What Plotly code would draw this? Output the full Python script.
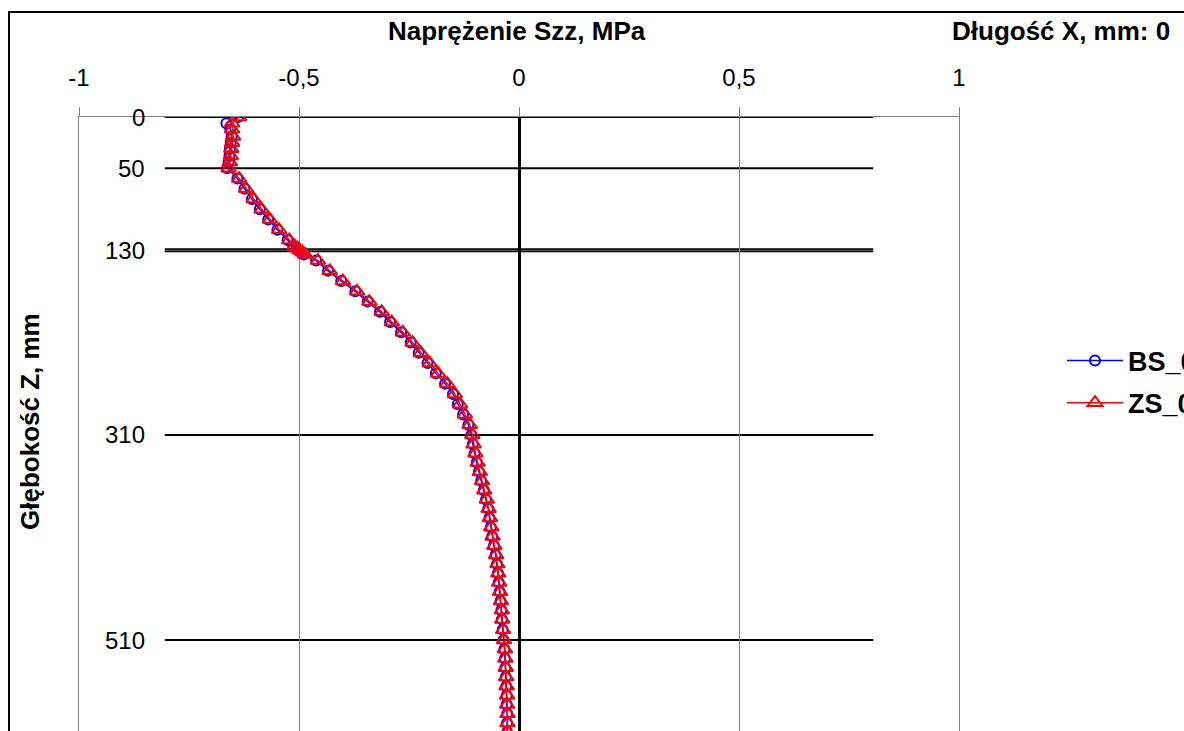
import plotly.graph_objects as go

# Depth below surface, mm
depth_mm = [0, 6, 12, 19, 25, 31, 38, 44, 50,
            60, 70, 80, 90, 100, 110, 120, 126, 128, 130, 132, 134,
            140, 150, 160, 170, 180, 190, 200, 210, 220, 230, 240, 250, 260,
            270, 280, 290, 300, 310,
            319, 328, 337, 346, 355, 364, 373, 382, 391, 400, 409, 418, 427,
            436, 445, 454, 463, 472, 481, 490, 500, 510,
            519, 528, 537, 546, 555, 564, 573, 582, 591, 600]

# Vertical stress Szz, MPa
bs_0 = [-0.638, -0.665, -0.656, -0.653, -0.655, -0.657, -0.658, -0.660, -0.663,
        -0.640, -0.624, -0.607, -0.589, -0.570, -0.549, -0.526, -0.513, -0.506, -0.501, -0.495, -0.489,
        -0.461, -0.434, -0.404, -0.372, -0.344, -0.316, -0.293, -0.268, -0.246, -0.228, -0.208, -0.189, -0.168,
        -0.150, -0.139, -0.127, -0.115, -0.108,
        -0.105, -0.101, -0.096, -0.091, -0.086, -0.080, -0.075, -0.070, -0.067, -0.064, -0.061, -0.057, -0.053,
        -0.050, -0.048, -0.046, -0.044, -0.042, -0.040, -0.039, -0.037, -0.035,
        -0.033, -0.032, -0.031, -0.030, -0.029, -0.028, -0.028, -0.027, -0.027, -0.027]

zs_0 = [-0.636, -0.652, -0.652, -0.650, -0.652, -0.654, -0.655, -0.657, -0.660,
        -0.636, -0.620, -0.603, -0.585, -0.566, -0.545, -0.522, -0.510, -0.503, -0.498, -0.492, -0.486,
        -0.457, -0.430, -0.400, -0.368, -0.340, -0.312, -0.289, -0.264, -0.242, -0.223, -0.203, -0.184, -0.163,
        -0.146, -0.134, -0.123, -0.112, -0.106,
        -0.103, -0.099, -0.094, -0.089, -0.084, -0.079, -0.073, -0.069, -0.066, -0.063, -0.060, -0.056, -0.052,
        -0.049, -0.047, -0.045, -0.043, -0.041, -0.039, -0.038, -0.036, -0.034,
        -0.032, -0.031, -0.030, -0.029, -0.028, -0.027, -0.027, -0.026, -0.026, -0.026]

# Layer boundaries (depth, mm) and their labels
layer_bounds = [0, 50, 130, 310, 510]
layer_labels = ["0", "50", "130", "310", "510"]

# Stress axis ticks
x_ticks = [-1, -0.5, 0, 0.5, 1]
x_tick_text = ["-1", "-0,5", "0", "0,5", "1"]

FONT = "Liberation Sans, Arial, sans-serif"
W, H = 1184, 731
L, R, T, B = 79, 225, 117, 0
pw, ph = W - L - R, H - T - B


def px_x(p):
    return (p - L) / pw


def px_y(p):
    return (H - B - p) / ph


fig = go.Figure()

fig.add_trace(go.Scatter(
    x=bs_0, y=depth_mm, name="<b>BS_0</b>", mode="lines+markers",
    line=dict(color="#0000ff", width=1.5),
    marker=dict(symbol="circle-open", size=10, color="#0000ff", line=dict(width=2)),
    legendgroup="a",
))
fig.add_trace(go.Scatter(
    x=zs_0, y=depth_mm, name="<b>ZS_0</b>", mode="lines+markers",
    line=dict(color="#ff0000", width=1.5),
    marker=dict(symbol="triangle-up-open", size=13, color="#ff0000", line=dict(width=2)),
    legendgroup="b",
))

shapes = []
for z in layer_bounds:
    shapes.append(dict(type="line", xref="x", yref="y", x0=-0.805, x1=0.805, y0=z, y1=z,
                       line=dict(color="black", width=4 if z == 130 else 2), layer="below"))
    if z == 130:
        shapes.append(dict(type="line", xref="x", yref="y", x0=-0.805, x1=0.805, y0=z, y1=z,
                           line=dict(color="#6a6a6a", width=1), layer="below"))
# outer chart frame
shapes.append(dict(type="rect", xref="paper", yref="paper",
                   x0=px_x(9), x1=px_x(1195), y0=px_y(745), y1=px_y(12),
                   line=dict(color="black", width=2), fillcolor="rgba(0,0,0,0)"))

annotations = []
for z, t in zip(layer_bounds, layer_labels):
    annotations.append(dict(x=-0.845, y=z, xref="x", yref="y", text=t, showarrow=False,
                            xanchor="right", yanchor="middle",
                            font=dict(family=FONT, size=24, color="black")))
annotations.append(dict(x=px_x(517), y=px_y(31), xref="paper", yref="paper",
                        text="<b>Naprężenie Szz, MPa</b>", showarrow=False,
                        xanchor="center", yanchor="middle",
                        font=dict(family=FONT, size=26, color="black")))
annotations.append(dict(x=px_x(1061), y=px_y(31), xref="paper", yref="paper",
                        text="<b>Długość X, mm: 0</b>", showarrow=False,
                        xanchor="center", yanchor="middle",
                        font=dict(family=FONT, size=26, color="black")))
annotations.append(dict(x=px_x(30), y=px_y(422), xref="paper", yref="paper",
                        text="<b>Głębokość Z, mm</b>", showarrow=False, textangle=-90,
                        xanchor="center", yanchor="middle",
                        font=dict(family=FONT, size=26, color="black")))

fig.update_layout(
    width=W, height=H,
    margin=dict(l=L, r=R, t=T, b=B, pad=0, autoexpand=False),
    paper_bgcolor="white", plot_bgcolor="white",
    font=dict(family=FONT, size=24, color="black"),
    shapes=shapes, annotations=annotations,
    showlegend=True,
    legend=dict(x=px_x(1062), y=px_y(382), xanchor="left", yanchor="middle",
                font=dict(family=FONT, size=27, color="black"),
                itemwidth=56,
                bgcolor="rgba(0,0,0,0)", traceorder="grouped", tracegroupgap=4),
    xaxis=dict(range=[-1, 1], side="top", tickvals=x_ticks, ticktext=x_tick_text,
               showgrid=True, gridcolor="#808080", gridwidth=1,
               zeroline=True, zerolinecolor="black", zerolinewidth=3,
               showline=True, linecolor="#808080", linewidth=1,
               ticks="outside", ticklen=9, tickcolor="#808080", tickwidth=1,
               ticklabelstandoff=11, tickfont=dict(family=FONT, size=24, color="black"),
               fixedrange=True),
    yaxis=dict(range=[(H - T) / 1.0255, 0], showgrid=False, zeroline=False,
               showticklabels=False, ticks="",
               showline=True, mirror=True, linecolor="#808080", linewidth=1,
               fixedrange=True),
)

fig.write_html("out.html")
